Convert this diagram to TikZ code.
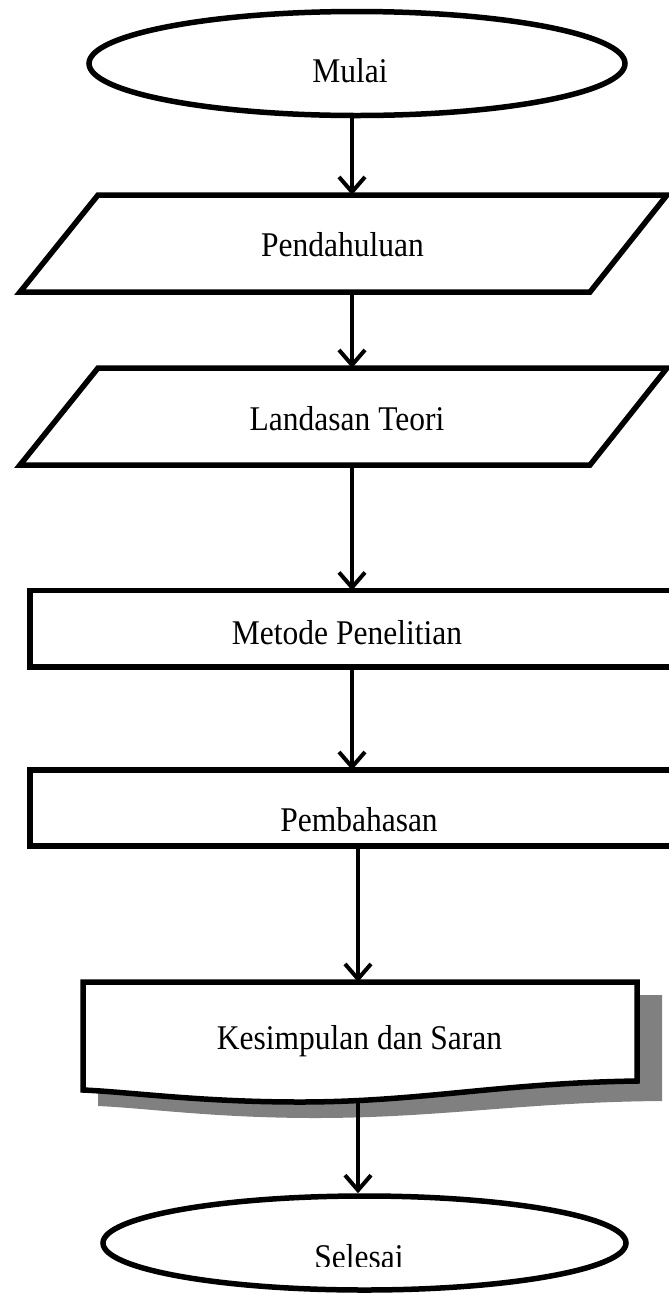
\documentclass[tikz,border=0pt]{standalone}
\usepackage{fontspec}
\setmainfont{Liberation Serif}
\usetikzlibrary{arrows.meta,shapes.geometric}
\newcommand\lbl[1]{\scalebox{1}[1.1]{#1}}
\begin{document}
\begin{tikzpicture}[x=1pt,y=-1pt,
  box/.style={draw=black,line width=5.5pt,line join=miter},
  txt/.style={font=\fontsize{31.5}{38}\selectfont,inner sep=0pt},
  term/.style={ellipse,draw=black,line width=5.5pt,inner sep=0pt,fill=white},
  holder/.style={rectangle,inner sep=0pt,outer sep=0pt},
  arr/.style={line width=4pt,-{Straight Barb[length=15pt,width=26pt,line width=4pt]}}]
\useasboundingbox (0,0) rectangle (669,1294);
% start
\node[term,minimum width=536pt,minimum height=104pt] (mulai) at (357,63.5) {};
\node[txt] (tmulai) at (350,71) {\lbl{Mulai}};
% Pendahuluan
\draw[box] (98,195) -- (667,195) -- (590,292) -- (20,292) -- cycle;
\node[holder,minimum width=570pt,minimum height=97pt] (pend) at (343.5,243.5) {};
\node[txt] (tpend) at (342.5,245) {\lbl{Pendahuluan}};
% Landasan Teori
\draw[box] (98,368) -- (667,368) -- (590,465) -- (20,465) -- cycle;
\node[holder,minimum width=570pt,minimum height=97pt] (land) at (343.5,416.5) {};
\node[txt] (tland) at (347,419) {\lbl{Landasan Teori}};
% Metode Penelitian
\node[box,holder,minimum width=642pt,minimum height=76.5pt] (meto) at (351,628.75) {};
\node[txt] (tmeto) at (347,633) {\lbl{Metode Penelitian}};
% Pembahasan
\node[box,holder,minimum width=642pt,minimum height=76pt] (pemb) at (351,808) {};
\node[txt] (tpemb) at (359,820) {\lbl{Pembahasan}};
% Kesimpulan dan Saran (document with shadow)
\fill[gray] (98,995) -- (662,995) -- (662,1101) .. controls (525,1102) and (440,1118) .. (315,1118) .. controls (215,1118) and (145,1108) .. (98,1106) -- cycle;
\draw[box,fill=white] (83,982) -- (637,982) -- (637,1081) .. controls (500,1083) and (420,1102) .. (300,1102) .. controls (200,1102) and (130,1092) .. (83,1090) -- cycle;
\node[holder,minimum width=554pt,minimum height=110pt] (kes) at (360,1037) {};
\node[txt] (tkes) at (359.5,1041) {\lbl{Kesimpulan dan Saran}};
\coordinate (kesbot) at (358,1100);
% end
\node[term,minimum width=523pt,minimum height=94pt] (sel) at (364.5,1243) {};
\begin{scope}
\clip (0,0) rectangle (669,1266);
\node[txt] (tsel) at (359,1257) {\lbl{Selesai}};
\end{scope}
% connectors
\coordinate (ca) at (352,0);
\coordinate (cb) at (358,0);
\draw[arr] (mulai.south -| ca) -- (pend.north -| ca);
\draw[arr] (pend.south -| ca) -- (land.north -| ca);
\draw[arr] (land.south -| ca) -- (meto.north -| ca);
\draw[arr] (meto.south -| ca) -- (pemb.north -| ca);
\draw[arr] (pemb.south -| cb) -- (kes.north -| cb);
\draw[arr] (kesbot) -- (sel.north -| cb);
\end{tikzpicture}
\end{document}
